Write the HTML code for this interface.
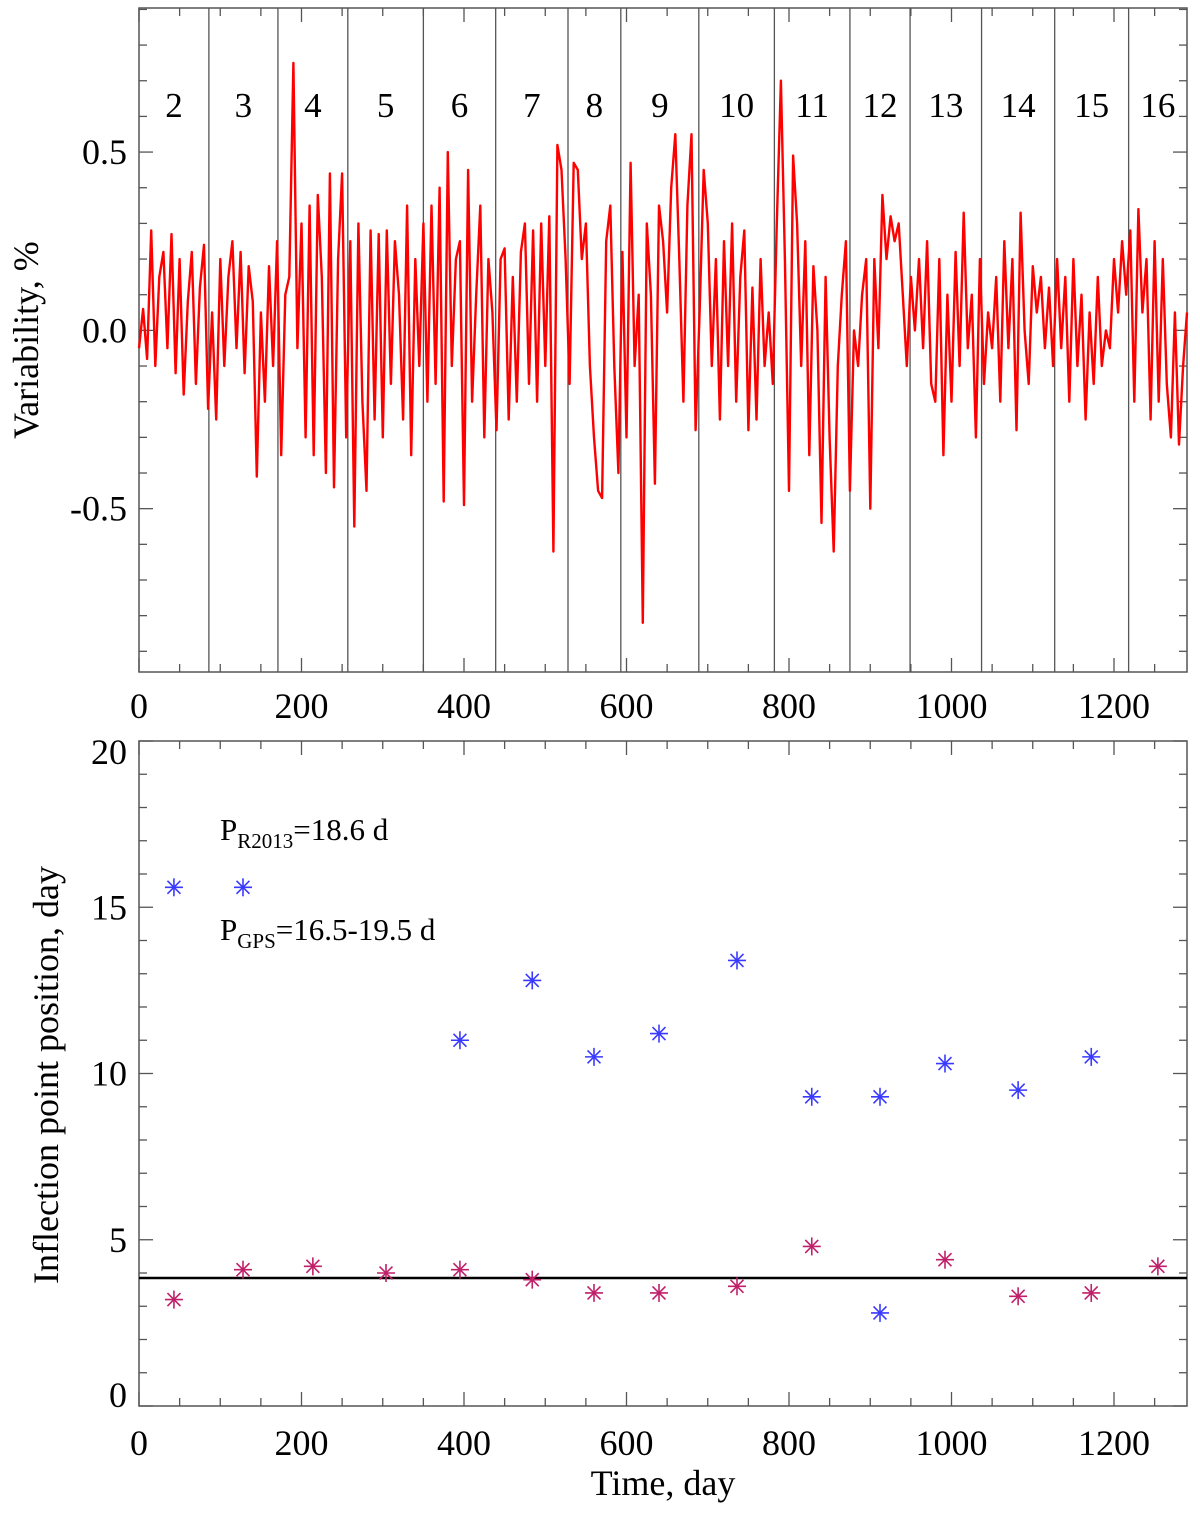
<!DOCTYPE html>
<html><head><meta charset="utf-8"><style>
html,body{margin:0;padding:0;background:#fff;}
svg{display:block;font-family:"Liberation Serif","DejaVu Serif",serif;}
</style></head><body>
<svg id="chart" width="1200" height="1515" viewBox="0 0 1200 1515" xmlns="http://www.w3.org/2000/svg"></svg>
<script>
// ---- Top panel data (variability %, sampled every 5 days) ----
const topStepDays = 5;
const topValues = [
-0.05,0.06,-0.08,0.28,-0.1,0.15,0.22,-0.05,0.27,-0.12,0.2,-0.18,0.08,0.22,-0.15,0.12,0.24,-0.22,0.05,-0.25,
0.2,-0.1,0.15,0.25,-0.05,0.22,-0.12,0.18,0.08,-0.41,0.05,-0.2,0.18,-0.1,0.25,-0.35,0.1,0.15,0.75,-0.05,
0.3,-0.3,0.35,-0.35,0.38,0.15,-0.4,0.44,-0.44,0.2,0.44,-0.3,0.25,-0.55,0.3,-0.2,-0.45,0.28,-0.25,0.27,
-0.3,0.28,-0.15,0.25,0.1,-0.25,0.35,-0.35,0.2,-0.1,0.3,-0.2,0.35,-0.15,0.4,-0.48,0.5,-0.1,0.2,0.25,
-0.49,0.45,-0.2,0.1,0.35,-0.3,0.2,0.05,-0.28,0.2,0.23,-0.25,0.15,-0.2,0.22,0.3,-0.15,0.28,-0.2,0.3,
-0.1,0.32,-0.62,0.52,0.45,0.2,-0.15,0.47,0.45,0.2,0.3,-0.1,-0.3,-0.45,-0.47,0.25,0.35,-0.1,-0.4,0.22,
-0.3,0.47,-0.1,0.1,-0.82,0.3,0.1,-0.43,0.35,0.25,0.05,0.4,0.55,0.2,-0.2,0.35,0.55,-0.28,0.05,0.45,
0.3,-0.1,0.2,-0.25,0.25,-0.1,0.3,-0.2,0.15,0.28,-0.28,0.12,-0.25,0.2,-0.1,0.05,-0.15,0.3,0.7,0.2,
-0.45,0.49,0.3,-0.1,0.25,-0.35,0.18,0.0,-0.54,0.15,-0.3,-0.62,-0.1,0.1,0.25,-0.45,0.0,-0.1,0.1,0.2,
-0.5,0.2,-0.05,0.38,0.2,0.32,0.25,0.3,0.1,-0.1,0.15,0.0,0.2,-0.05,0.25,-0.15,-0.2,0.2,-0.35,0.1,
-0.2,0.22,-0.1,0.33,-0.05,0.1,-0.3,0.2,-0.15,0.05,-0.05,0.15,-0.2,0.25,-0.05,0.2,-0.28,0.33,0.0,-0.15,
0.18,0.05,0.15,-0.05,0.12,-0.1,0.2,-0.05,0.15,-0.2,0.2,-0.1,0.1,-0.25,0.05,-0.15,0.15,-0.1,0.0,-0.05,
0.2,0.05,0.25,0.1,0.28,-0.2,0.34,0.05,0.2,-0.25,0.25,-0.2,0.2,-0.15,-0.3,0.05,-0.32,-0.1,0.05
];
const boundaryDays = [86,171,257,350,439,528,593,689,782,875,949,1037,1127,1218];
const segmentLabels = ["2","3","4","5","6","7","8","9","10","11","12","13","14","15","16"];
const topXTicks = [0,200,400,600,800,1000,1200];
const topYTicks = [-0.5,0.0,0.5];
const topYTickLabels = ["-0.5","0.0","0.5"];

// ---- Bottom panel data ----
const blueDays = [43,128,395,484,560,640,736,828,912,992,1082,1172,912];
const blueVals = [15.6,15.6,11.0,12.8,10.5,11.2,13.4,9.3,9.3,10.3,9.5,10.5,2.8];
const redDays = [43,128,214,304,395,484,560,640,736,828,992,1082,1172,1254];
const redVals = [3.2,4.1,4.2,4.0,4.1,3.8,3.4,3.4,3.6,4.8,4.4,3.3,3.4,4.2];
const refLevel = [3.85];
const botYTicks = [0,5,10,15,20];

const NS = "http://www.w3.org/2000/svg";
const svg = document.getElementById('chart');
function mk(tag, attrs, parent){const e=document.createElementNS(NS,tag);for(const k in attrs)e.setAttribute(k,attrs[k]);(parent||svg).appendChild(e);return e;}

const L=139, R=1187;
const xMax = (R-L)/0.8125;
const xs = d => L + d*(R-L)/xMax;
const T1=8, B1=672, yTop=0.904, yBot=-0.958;
const y1 = v => T1 + (yTop - v)*(B1-T1)/(yTop-yBot);
const T2=741, B2=1406;
const y2 = v => B2 - v*(B2-T2)/20;

function frame(top,bot,name,yMinorVals,yMajorVals,yfun){
  const g=mk('g',{});
  
  
  mk('rect',{x:L,y:top,width:R-L,height:bot-top,fill:'none',stroke:'#555','stroke-width':1.5},g);
  for(let d=0; d<=xMax; d+=50){
    const major = d%200===0; const len = major?14:8; const x=xs(d);
    mk('line',{x1:x,x2:x,y1:bot,y2:bot-len,stroke:'#555','stroke-width':1.3},g);
    mk('line',{x1:x,x2:x,y1:top,y2:top+len,stroke:'#555','stroke-width':1.3},g);
  }
  yMinorVals.forEach(v=>{const major=yMajorVals.some(m=>Math.abs(m-v)<1e-6);const len=major?14:8;const y=yfun(v);
    mk('line',{x1:L,x2:L+len,y1:y,y2:y,stroke:'#555','stroke-width':1.3},g);
    mk('line',{x1:R,x2:R-len,y1:y,y2:y,stroke:'#555','stroke-width':1.3},g);});
}
const topMinor=[]; for(let v=-0.9; v<=0.9001; v+=0.1) topMinor.push(Math.round(v*10)/10);
frame(T1,B1,'top-panel',topMinor,topYTicks,y1);
const botMinor=[]; for(let v=0; v<=20; v+=1) botMinor.push(v);
frame(T2,B2,'bottom-panel',botMinor,botYTicks,y2);

boundaryDays.forEach((d,i)=>{
  const ln=mk('line',{x1:xs(d),x2:xs(d),y1:T1,y2:B1,stroke:'#555','stroke-width':1.3});
  
  
});
const edges=[0,...boundaryDays,xMax];
segmentLabels.forEach((s,i)=>{
  const cx=(xs(edges[i])+xs(edges[i+1]))/2;
  const t=mk('text',{x:cx,y:117,'font-size':35,'text-anchor':'middle',fill:'#000'});
  t.textContent=s;
  
  
});
let pts=topValues.map((v,i)=>xs(Math.min(i*topStepDays,xMax)).toFixed(1)+','+y1(v).toFixed(1)).join(' ');
const pl=mk('polyline',{points:pts,fill:'none',stroke:'#ff0000','stroke-width':2.4,'stroke-linejoin':'round'});



topXTicks.forEach(d=>{const t=mk('text',{x:xs(d),y:718,'font-size':36,'text-anchor':'middle'});t.textContent=d;
  
  });
topYTicks.forEach((v,i)=>{const t=mk('text',{x:127,y:y1(v)+12,'font-size':36,'text-anchor':'end'});t.textContent=topYTickLabels[i];
  
  });
const yt1=mk('text',{x:0,y:0,'font-size':36,'text-anchor':'middle',transform:'translate(38,340) rotate(-90)'});
yt1.textContent='Variability, %';



topXTicks.forEach(d=>{const t=mk('text',{x:xs(d),y:1455,'font-size':36,'text-anchor':'middle'});t.textContent=d;
  
  });
botYTicks.forEach(v=>{const adj = v===0?-11:(v===20?11:0);const t=mk('text',{x:127,y:y2(v)+12+adj,'font-size':36,'text-anchor':'end'});t.textContent=v;
  
  });
const yt2=mk('text',{x:0,y:0,'font-size':36,'text-anchor':'middle',transform:'translate(58,1075) rotate(-90)'});
yt2.textContent='Inflection point position, day';


const xt=mk('text',{x:663,y:1495,'font-size':36,'text-anchor':'middle'});
xt.textContent='Time, day';



const rl=mk('line',{x1:L,x2:R,y1:y2(refLevel[0]),y2:y2(refLevel[0]),stroke:'#000','stroke-width':2.5});



function star(x,y,color,name){
  const g=mk('g',{stroke:color,'stroke-width':1.6});
  
  
  const r=9;
  mk('line',{x1:x-r,x2:x+r,y1:y,y2:y},g);
  mk('line',{x1:x,x2:x,y1:y-r,y2:y+r},g);
  const d=r*0.72;
  mk('line',{x1:x-d,x2:x+d,y1:y-d,y2:y+d},g);
  mk('line',{x1:x-d,x2:x+d,y1:y+d,y2:y-d},g);
}
blueDays.forEach((d,i)=>star(xs(d),y2(blueVals[i]),'#3a3aff','blue-point'));
redDays.forEach((d,i)=>star(xs(d),y2(redVals[i]),'#c0206a','magenta-point'));

const a1=mk('text',{x:220,y:840,'font-size':31});
a1.innerHTML='P<tspan font-size="21" dy="8">R2013</tspan><tspan dy="-8">=18.6 d</tspan>';


const a2=mk('text',{x:220,y:940,'font-size':31});
a2.innerHTML='P<tspan font-size="21" dy="8">GPS</tspan><tspan dy="-8">=16.5-19.5 d</tspan>';


</script>
</body></html>
